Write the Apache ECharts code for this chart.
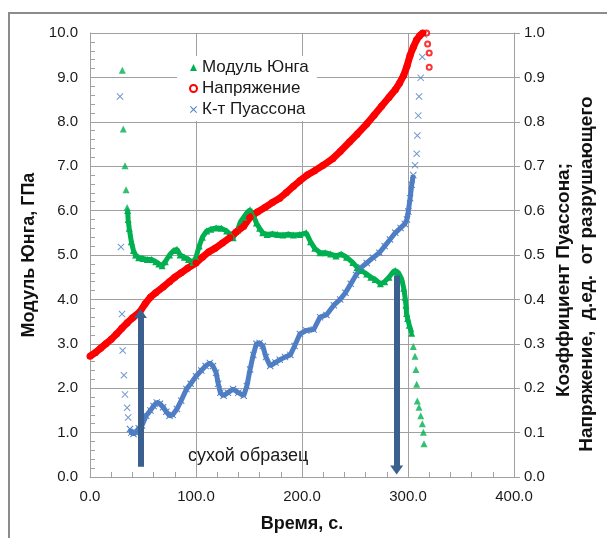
<!DOCTYPE html>
<html>
<head>
<meta charset="utf-8">
<script src="https://cdn.jsdelivr.net/npm/echarts@6/dist/echarts.min.js"></script>
<style>
  html, body { margin: 0; padding: 0; background: #fff; }
  #chart { width: 607px; height: 538px; }
</style>
</head>
<body>
<div id="chart"></div>
<script>
// время, с / значение
const youngStart = [[30.5, 9.16], [31.4, 7.84], [33, 7.01], [34, 6.47], [35, 6.07]];
const youngMain = [
  [35.5, 6.0], [36, 5.8], [37, 5.6], [39, 5.3], [41, 5.1], [43, 5.0], [46, 4.94], [50, 4.92],
  [54, 4.9], [58, 4.9], [62, 4.85], [65, 4.8], [68, 4.76], [71, 4.85], [75, 5.0], [79, 5.1],
  [82, 5.13], [85, 5.0], [89, 4.95], [93, 4.9], [97, 4.83], [100, 4.95], [103, 5.2], [106, 5.4],
  [110, 5.54], [114, 5.58], [119, 5.61], [124, 5.6], [129, 5.54], [133, 5.45], [135, 5.39],
  [139, 5.55], [142, 5.75], [145, 5.85], [148, 5.95], [151, 6.02], [154, 5.9], [157, 5.72],
  [160, 5.6], [163, 5.5], [167, 5.46], [172, 5.48], [177, 5.46], [182, 5.45], [187, 5.47],
  [192, 5.45], [198, 5.46], [204, 5.5], [208, 5.3], [212, 5.15], [217, 5.05], [222, 5.05],
  [227, 5.02], [232, 4.98], [237, 5.02], [242, 4.95], [248, 4.83], [252, 4.72], [256, 4.65],
  [261, 4.57], [265, 4.5], [269, 4.45], [274, 4.35], [278, 4.4], [282, 4.5], [286, 4.62],
  [288, 4.65], [291, 4.6], [294, 4.46], [296, 4.25], [297.2, 4.05], [298.1, 3.87], [298.7, 3.68],
  [299.7, 3.57], [301.2, 3.42], [303.5, 3.24]
];
const youngEnd = [
  [305, 2.94], [306.6, 2.72], [307.5, 2.42], [308.2, 2.09], [308.8, 1.71], [310.4, 1.57],
  [312, 1.38], [313.5, 1.2], [314.5, 1.01], [315.1, 0.75]
];

const stressMain = [
  [0, 0.272], [5, 0.28], [10, 0.29], [15, 0.3], [20, 0.31], [25, 0.322], [30, 0.335], [35, 0.347],
  [40, 0.358], [47, 0.372], [52, 0.39], [57, 0.405], [62, 0.415], [69, 0.428], [75, 0.44],
  [80, 0.45], [86, 0.46], [92, 0.47], [100, 0.482], [106, 0.495], [112, 0.507], [118, 0.515],
  [125, 0.527], [132, 0.539], [138, 0.552], [145, 0.565], [151, 0.585], [158, 0.597], [165, 0.607],
  [172, 0.618], [179, 0.628], [185, 0.64], [192, 0.655], [198, 0.667], [205, 0.68], [212, 0.69],
  [220, 0.702], [229, 0.717], [236, 0.733], [245, 0.755], [252, 0.772], [261, 0.795], [268, 0.815],
  [275, 0.835], [282, 0.855], [288, 0.872], [292, 0.887], [296, 0.905], [299, 0.925], [302, 0.95],
  [305, 0.968], [308, 0.984], [311, 0.994], [314, 1.0]
];
const stressEnd = [[317.6, 1.0], [318.5, 0.975], [320, 0.955], [320, 0.923]];

const poissonStart = [
  [28.3, 0.857], [29.2, 0.518], [30.2, 0.367], [30.8, 0.285], [32, 0.229], [33, 0.186],
  [35, 0.156], [36, 0.134]
];
const poissonMain = [
  [37.7, 0.108], [39, 0.1], [41, 0.097], [43, 0.1], [46, 0.11], [49, 0.116], [53, 0.138],
  [57, 0.15], [60, 0.16], [63, 0.168], [66, 0.165], [69, 0.157], [72, 0.147], [75, 0.138],
  [78, 0.14], [82, 0.153], [86, 0.172], [91, 0.198], [95, 0.21], [100, 0.227], [105, 0.24],
  [109, 0.25], [113, 0.257], [116, 0.25], [119, 0.235], [121, 0.21], [123, 0.19], [126, 0.183],
  [130, 0.19], [135, 0.198], [140, 0.19], [145, 0.183], [148, 0.205], [151, 0.242], [154, 0.275],
  [157, 0.3], [160, 0.302], [163, 0.295], [166, 0.27], [170, 0.25], [175, 0.258], [179, 0.264],
  [184, 0.27], [189, 0.275], [193, 0.295], [198, 0.322], [204, 0.33], [211, 0.332], [217, 0.36],
  [223, 0.365], [230, 0.387], [236, 0.4], [241, 0.415], [246, 0.435], [251, 0.455], [256, 0.472],
  [261, 0.482], [267, 0.494], [273, 0.505], [278, 0.52], [283, 0.535], [288, 0.55], [293, 0.561],
  [297, 0.57], [299, 0.58], [300.3, 0.598], [302, 0.628], [303.5, 0.658], [305, 0.68]
];
const poissonEnd = [
  [306.6, 0.702], [308.2, 0.728], [308.8, 0.769], [309.7, 0.814], [310.4, 0.857], [312, 0.899],
  [313.5, 0.946], [315, 0.996]
];

// стрелки: [x, y от, y до] по левой оси
const arrows = [[47.6, 0.23, 3.68], [289.3, 4.54, 0.16]];

const rightTitle = ["Коэффициент Пуассона;", "Напряжение,  д.ед.  от разрушающего"];

const GREEN = "#00b050";
const RED = "#ff0000";
const BLUE = "#4f7ec4";
const ARROW = "#3b5f8f";
const FONT = "'Liberation Sans', Arial, sans-serif";
const crossPath = "path://M1,0 L5,4 L9,0 L10,1 L6,5 L10,9 L9,10 L5,6 L1,10 L0,9 L4,5 L0,1 Z";

let myChart = echarts.init(document.getElementById("chart"));

let axisGray = "#a0a0a0";
let labelStyle = { color: "#1a1a1a", fontSize: 15, fontFamily: FONT };
let titleStyle = { fontSize: 18, fontWeight: "bold", color: "#111", fontFamily: FONT };

let option = {
  animation: false,
  backgroundColor: "#fff",
  textStyle: { fontFamily: FONT },
  grid: { left: 90, right: 93, top: 33, bottom: 56, containLabel: false },
  legend: {
    orient: "vertical",
    left: 177,
    top: 56,
    padding: [3, 8, 3, 12],
    backgroundColor: "#fff",
    itemWidth: 7,
    itemHeight: 7,
    itemGap: 4,
    textStyle: { fontSize: 17, color: "#1a1a1a", fontFamily: FONT },
    data: [
      { name: "Модуль Юнга", icon: "triangle" },
      { name: "Напряжение", icon: "emptyCircle" },
      { name: "К-т Пуассона", icon: crossPath }
    ]
  },
  xAxis: {
    type: "value",
    min: 0,
    max: 400,
    interval: 100,
    name: "Время, с.",
    nameLocation: "middle",
    nameGap: 38,
    nameTextStyle: titleStyle,
    axisLine: { lineStyle: { color: axisGray, width: 1 } },
    axisTick: { show: true, inside: true, length: 6, lineStyle: { color: axisGray } },
    minorTick: { show: true, splitNumber: 5, length: 5, lineStyle: { color: axisGray } },
    axisLabel: Object.assign({ margin: 12, formatter: v => v.toFixed(1) }, labelStyle),
    splitLine: { show: true, lineStyle: { color: axisGray } }
  },
  yAxis: [
    {
      type: "value",
      min: 0,
      max: 10,
      interval: 1,
      name: "Модуль Юнга, ГПа",
      nameLocation: "middle",
      nameGap: 49,
      nameTextStyle: titleStyle,
      axisLine: { show: true, lineStyle: { color: axisGray } },
      axisTick: { show: true, inside: true, length: 6, lineStyle: { color: axisGray } },
      minorTick: { show: true, splitNumber: 5, length: 5, lineStyle: { color: axisGray } },
      axisLabel: Object.assign({ margin: 12, formatter: v => v.toFixed(1) }, labelStyle),
      splitLine: { show: true, lineStyle: { color: axisGray } }
    },
    {
      type: "value",
      min: 0,
      max: 1,
      interval: 0.1,
      position: "right",
      axisLine: { show: true, lineStyle: { color: axisGray } },
      axisTick: { show: true, inside: false, length: 6, lineStyle: { color: axisGray } },
      axisLabel: Object.assign({ margin: 10, formatter: v => v.toFixed(1) }, labelStyle),
      splitLine: { show: false }
    }
  ],
  graphic: [
    {
      type: "rect",
      shape: { x: 9, y: 13, width: 800, height: 800 },
      style: { fill: "none", stroke: "#8c8c8c", lineWidth: 2 },
      silent: true
    },
    {
      type: "text",
      left: 188,
      top: 447,
      style: { text: "сухой образец", fontSize: 18, fill: "#1a1a1a", fontFamily: FONT }
    },
    {
      type: "text",
      x: 564,
      y: 280,
      rotation: Math.PI / 2,
      style: Object.assign({ text: rightTitle[0], align: "center", verticalAlign: "middle", fill: "#111" },
        { fontSize: 19, fontWeight: "bold", fontFamily: FONT })
    },
    {
      type: "text",
      x: 587,
      y: 274,
      rotation: Math.PI / 2,
      style: Object.assign({ text: rightTitle[1], align: "center", verticalAlign: "middle", fill: "#111" },
        { fontSize: 19, fontWeight: "bold", fontFamily: FONT })
    }
  ],
  series: [
    {
      name: "Модуль Юнга",
      type: "line",
      yAxisIndex: 0,
      data: youngMain,
      symbol: "triangle",
      symbolSize: 7,
      showAllSymbol: true,
      itemStyle: { color: GREEN },
      lineStyle: { color: GREEN, width: 5 },
      markLine: {
        silent: true,
        symbol: ["none", "path://M5,0 L10,10 L0,10 Z"],
        symbolSize: [13, 9],
        label: { show: false },
        lineStyle: { color: ARROW, width: 6, type: "solid" },
        data: arrows.map(a => [{ coord: [a[0], a[1]] }, { coord: [a[0], a[2]] }])
      }
    },
    {
      name: "Модуль Юнга",
      type: "scatter",
      yAxisIndex: 0,
      data: youngStart.concat(youngEnd),
      symbol: "triangle",
      symbolSize: 7,
      itemStyle: { color: GREEN }
    },
    {
      name: "Напряжение",
      type: "line",
      yAxisIndex: 1,
      data: stressMain,
      symbol: "circle",
      symbolSize: 7,
      showAllSymbol: true,
      itemStyle: { color: RED },
      lineStyle: { color: RED, width: 7 }
    },
    {
      name: "Напряжение",
      type: "scatter",
      yAxisIndex: 1,
      data: stressEnd,
      symbol: "emptyCircle",
      symbolSize: 5,
      itemStyle: { color: RED, borderColor: RED, borderWidth: 1.5 }
    },
    {
      name: "К-т Пуассона",
      type: "line",
      yAxisIndex: 1,
      data: poissonMain,
      symbol: crossPath,
      symbolSize: 7,
      showAllSymbol: true,
      itemStyle: { color: BLUE },
      lineStyle: { color: BLUE, width: 5 }
    },
    {
      name: "К-т Пуассона",
      type: "scatter",
      yAxisIndex: 1,
      data: poissonStart.concat(poissonEnd),
      symbol: crossPath,
      symbolSize: 7,
      itemStyle: { color: BLUE }
    }
  ]
};
myChart.setOption(option, true);
</script>
</body>
</html>
